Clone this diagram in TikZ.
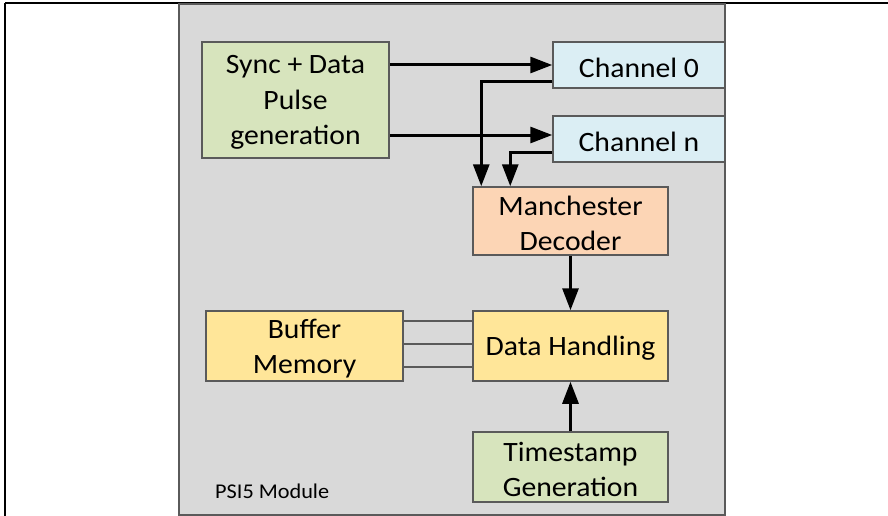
\documentclass[tikz,border=0pt]{standalone}
\usepackage{fontspec}
\setmainfont[FakeStretch=1.06]{Carlito}
\usetikzlibrary{arrows.meta,calc}
\definecolor{bggray}{HTML}{D9D9D9}
\definecolor{edgegray}{HTML}{5A5A5A}
\definecolor{boxgreen}{HTML}{D7E4BD}
\definecolor{boxblue}{HTML}{DBEEF4}
\definecolor{boxorange}{HTML}{FCD5B5}
\definecolor{boxyellow}{HTML}{FFE699}
\tikzset{
  blk/.style={draw=edgegray, line width=1.5pt, inner sep=0pt},
  blktext/.style={inner sep=0pt, align=center, yshift=-2.5pt,
    font=\fontsize{28}{35.5}\selectfont, text=black},
  flow/.style={line width=3pt, -{Triangle[length=22pt,width=16pt]}},
  bus/.style={draw=edgegray, line width=1.5pt},
}
\begin{document}
\begin{tikzpicture}[x=1pt,y=-1pt]
\useasboundingbox (0,0) rectangle (888,516);
% outer frame lines
\draw[line width=2pt] (5,3) -- (888,3);
\draw[line width=2pt] (5,3) -- (5,516);
% module background
\draw[draw=edgegray, line width=1.5pt, fill=bggray] (179,4) rectangle (725,515);
\node[anchor=base west, font=\fontsize{21}{25}\selectfont, text=black, inner sep=0pt] (lbl) at (215,498) {PSI5 Module};
% blocks
\node[blk, fill=boxgreen, minimum width=187pt, minimum height=116pt,
  label={[blktext]center:{Sync + Data\\Pulse\\generation}}] (sync) at (295.5,100) {};
\node[blk, fill=boxblue, minimum width=172pt, minimum height=46pt,
  label={[blktext]center:{Channel 0}}] (ch0) at (639,65) {};
\node[blk, fill=boxblue, minimum width=172pt, minimum height=46pt,
  label={[blktext]center:{Channel n}}] (chn) at (639,139) {};
\node[blk, fill=boxorange, minimum width=195pt, minimum height=68pt,
  label={[blktext]center:{Manchester\\Decoder}}] (man) at (570.5,221) {};
\node[blk, fill=boxyellow, minimum width=195pt, minimum height=70pt,
  label={[blktext]center:{Data Handling}}] (dh) at (570.5,346) {};
\node[blk, fill=boxyellow, minimum width=197pt, minimum height=70pt,
  label={[blktext]center:{Buffer\\Memory}}] (buf) at (304.5,346) {};
\node[blk, fill=boxgreen, minimum width=195pt, minimum height=70pt,
  label={[blktext]center:{Timestamp\\Generation}}] (ts) at (570.5,467) {};
% helper coordinates
\coordinate (s1) at (sync.east |- ch0.west);
\coordinate (t2) at ($(chn.west)+(0,-4)$);
\coordinate (s2) at (sync.east |- t2);
\coordinate (r0) at ($(ch0.south west)+(0,-7)$);
\coordinate (rn) at ($(chn.south west)+(0,-10)$);
\coordinate (d0) at ($(man.north west)+(9,0)$);
\coordinate (dn) at ($(man.north west)+(38,0)$);
% connectors
\draw[flow] (s1) -- (ch0.west);
\draw[flow] (s2) -- (t2);
\draw[flow] (r0) -| (d0);
\draw[flow] (rn) -| (dn);
\draw[flow] (man.south) -- (dh.north);
\draw[flow] (ts.north) -- (dh.south);
\draw[bus] ($(buf.east)+(0,-25)$) -- ($(dh.west)+(0,-25)$);
\draw[bus] ($(buf.east)+(0,-2)$) -- ($(dh.west)+(0,-2)$);
\draw[bus] ($(buf.east)+(0,21)$) -- ($(dh.west)+(0,21)$);
\end{tikzpicture}
\end{document}
